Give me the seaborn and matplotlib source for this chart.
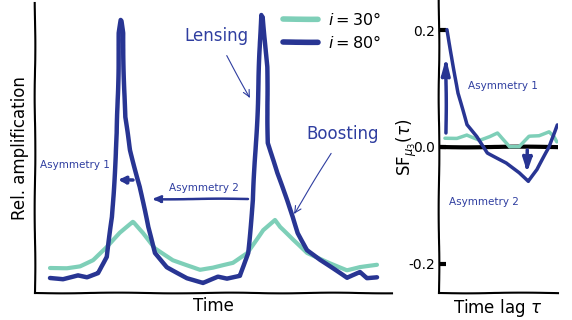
import matplotlib
matplotlib.use("Agg")
import matplotlib.pyplot as plt
import pandas as pd
import seaborn as sns

BLUE = "#283593"
TEAL = "#7ecfb8"
TXT = "#2f3ea0"

# light curves (arbitrary time / amplitude units)
t_lo = [15, 32, 45, 58, 72, 85, 98, 108, 120, 138, 165, 178, 198, 212, 228, 240,
        245, 258, 272, 295, 312, 325, 342]
amp_lo = [25, 25, 27, 33, 46, 60, 71, 60, 45, 33, 23, 25, 30, 40, 63, 73,
          66, 53, 40, 30, 23, 26, 28]
t_hi = [15, 28, 43, 52, 63, 72, 77, 82, 84, 86, 88, 90, 95, 105, 113, 120, 132,
        152, 168, 183, 192, 205, 213, 218, 223, 226, 228, 232, 233, 242, 252, 258,
        263, 272, 285, 312, 325, 332, 342]
amp_hi = [15, 14, 18, 16, 20, 36, 76, 160, 260, 273, 260, 176, 143, 106, 66, 40, 26,
          15, 10, 16, 14, 17, 40, 93, 193, 278, 276, 226, 150, 120, 93, 76,
          60, 43, 33, 15, 21, 15, 16]

# structure function
lag_lo = [6, 18, 28, 41, 51, 59, 71, 81, 91, 101, 111, 116, 119]
sf_lo = [0.015, 0.015, 0.021, 0.012, 0.018, 0.024, 0.0, 0.0, 0.018, 0.019, 0.026, 0.018, 0.009]
lag_hi = [8, 13, 19, 28, 38, 49, 68, 81, 90, 99, 111, 119]
sf_hi = [0.201, 0.154, 0.092, 0.038, 0.018, -0.010, -0.027, -0.044, -0.059, -0.039, 0.0, 0.038]

lab_lo = r"$i = 30\degree$"
lab_hi = r"$i = 80\degree$"

sns.set_theme(style="white")

with plt.xkcd(scale=0.35, length=120, randomness=2):
    plt.rcParams["font.family"] = ["DejaVu Sans"]
    plt.rcParams["path.effects"] = []
    plt.rcParams["text.color"] = "black"
    plt.rcParams["axes.labelcolor"] = "black"
    plt.rcParams["ytick.color"] = "black"
    plt.rcParams["lines.solid_joinstyle"] = "round"

    fig = plt.figure(figsize=(5.72, 3.2), dpi=100)
    ax1 = fig.add_axes([35 / 572, 27 / 320, 357 / 572, 290 / 320])
    ax2 = fig.add_axes([439 / 572, 27 / 320, 119 / 572, 292 / 320])

    # left: light curves
    sns.lineplot(x=t_lo, y=amp_lo, ax=ax1, color=TEAL, lw=3, label=lab_lo)
    sns.lineplot(x=t_hi, y=amp_hi, ax=ax1, color=BLUE, lw=3.2, label=lab_hi)
    ax1.set_xlim(0, 357)
    ax1.set_ylim(0, 290)
    ax1.set_xticks([])
    ax1.set_yticks([])
    for s in ["top", "right"]:
        ax1.spines[s].set_visible(False)
    for s in ["left", "bottom"]:
        ax1.spines[s].set_color("black")
        ax1.spines[s].set_linewidth(1.5)
    ax1.set_xlabel("Time", fontsize=12)
    ax1.set_ylabel("Rel. amplification", fontsize=12)
    ax1.xaxis.set_label_coords(0.5, -0.015)
    ax1.yaxis.set_label_coords(-0.018, 0.5)

    leg = ax1.legend(loc="upper left", bbox_to_anchor=(283 / 572, 1 - 11 / 320),
                     bbox_transform=fig.transFigure, frameon=False, fontsize=11.5,
                     handlelength=2.2, handletextpad=0.6, borderaxespad=0,
                     borderpad=0, labelspacing=0.35)
    for h in leg.get_lines():
        h.set_linewidth(4)

    ax1.annotate("Lensing", xy=(215, 195), xytext=(181, 257), color=TXT, fontsize=12,
                 ha="center", va="center",
                 arrowprops=dict(arrowstyle="->", color=TXT, lw=0.8, shrinkA=6, shrinkB=0))
    ax1.annotate("Boosting", xy=(259, 79), xytext=(308, 159), color=TXT, fontsize=12,
                 ha="center", va="center",
                 arrowprops=dict(arrowstyle="->", color=TXT, lw=0.8, shrinkA=6, shrinkB=0))
    ax1.text(40, 128, "Asymmetry 1", color=TXT, fontsize=7.5, ha="center", va="center")
    ax1.text(169, 105, "Asymmetry 2", color=TXT, fontsize=7.5, ha="center", va="center")
    ax1.annotate("", xy=(83, 113), xytext=(98, 113),
                 arrowprops=dict(arrowstyle="-|>,head_length=0.3,head_width=0.15",
                                 color=BLUE, lw=2.5, shrinkA=0, shrinkB=0))
    ax1.annotate("", xy=(117, 94), xytext=(213, 94),
                 arrowprops=dict(arrowstyle="-|>,head_length=0.35,head_width=0.15",
                                 color=BLUE, lw=1.8, shrinkA=0, shrinkB=0))

    # right: structure function
    ax2.axhline(0, color="black", lw=3, zorder=1)
    sns.lineplot(x=lag_lo, y=sf_lo, ax=ax2, color=TEAL, lw=2.5)
    sns.lineplot(x=lag_hi, y=sf_hi, ax=ax2, color=BLUE, lw=2.5)
    ax2.set_xlim(0, 120)
    ax2.set_ylim(-0.25, 0.25)
    ax2.set_xticks([])
    ax2.set_yticks([-0.2, 0.0, 0.2])
    ax2.set_yticklabels(["-0.2", "0.0", "0.2"])
    ax2.tick_params(axis="y", direction="in", length=5, width=3, pad=3,
                    labelsize=10, left=True, color="black", labelcolor="black")
    for s in ["top", "right"]:
        ax2.spines[s].set_visible(False)
    for s in ["left", "bottom"]:
        ax2.spines[s].set_color("black")
        ax2.spines[s].set_linewidth(1.5)
    ax2.set_xlabel(r"Time lag $\tau$", fontsize=12)
    ax2.set_ylabel(r"$\mathrm{SF}_{\mu_3}(\tau)$", fontsize=12)
    ax2.xaxis.set_label_coords(0.49, -0.015)
    ax2.yaxis.set_label_coords(-0.17, 0.5)

    ax2.annotate("", xy=(7, 0.154), xytext=(7, 0.024),
                 arrowprops=dict(arrowstyle="-|>,head_length=0.7,head_width=0.18",
                                 color=BLUE, lw=2.5, shrinkA=0, shrinkB=0))
    ax2.annotate("", xy=(89, -0.044), xytext=(89, -0.005),
                 arrowprops=dict(arrowstyle="-|>,head_length=0.6,head_width=0.2",
                                 color=BLUE, lw=2.5, shrinkA=0, shrinkB=0))
    ax2.text(29, 0.105, "Asymmetry 1", color=TXT, fontsize=7.5, ha="left", va="center")
    ax2.text(10, -0.095, "Asymmetry 2", color=TXT, fontsize=7.5, ha="left", va="center")

    fig.savefig("out.png", dpi=100)
